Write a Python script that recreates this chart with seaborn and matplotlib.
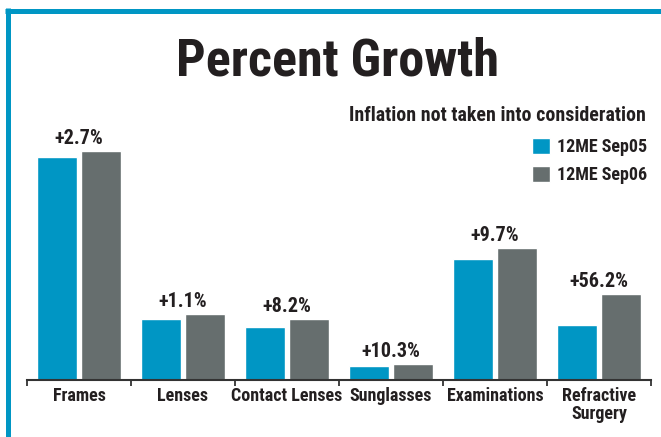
import matplotlib.pyplot as plt
import pandas as pd
import seaborn as sns
from matplotlib.lines import Line2D
from matplotlib.ticker import FixedLocator

categories = ["Frames", "Lenses", "Contact Lenses", "Sunglasses", "Examinations", "Refractive\nSurgery"]
series = ["12ME Sep05", "12ME Sep06"]
sep05 = [222.7, 61.0, 53.0, 14.0, 121.0, 55.0]
sep06 = [229.0, 66.3, 61.0, 16.0, 132.3, 86.3]
growth_labels = ["+2.7%", "+1.1%", "+8.2%", "+10.3%", "+9.7%", "+56.2%"]

BLUE = "#0096c4"
GREY = "#666e6e"
INK = "#231f20"

sns.set_theme(style="white")
plt.rcParams["font.family"] = ["Liberation Sans Narrow", "Roboto Condensed", "Noto Sans Condensed",
                               "DejaVu Sans Condensed", "Noto Sans", "DejaVu Sans"]
plt.rcParams["font.stretch"] = "condensed"
plt.rcParams["font.weight"] = "bold"

df = pd.DataFrame({
    "category": categories * 2,
    "series": [series[0]] * len(categories) + [series[1]] * len(categories),
    "value": sep05 + sep06,
})

fig = plt.figure(figsize=(6.61, 4.37), dpi=100)
ax = fig.add_axes([27 / 661, 57 / 437, 624 / 661, 280 / 437])

sns.barplot(data=df, x="category", y="value", hue="series", order=categories,
            hue_order=series, palette=[BLUE, GREY], width=0.85, gap=0.095,
            saturation=1, ax=ax)

ax.set_ylim(0, 280)
ax.set_xlim(-0.5, 5.5)
ax.set_xlabel("")
ax.set_ylabel("")
ax.set_yticks([])
for s in ["top", "left", "right"]:
    ax.spines[s].set_visible(False)
ax.spines["bottom"].set_color("#333333")
ax.spines["bottom"].set_linewidth(1.5)

ax.xaxis.set_minor_locator(FixedLocator([i - 0.5 for i in range(len(categories) + 1)]))
ax.tick_params(axis="x", which="major", length=0, pad=5, labelsize=13, labelcolor=INK)
ax.tick_params(axis="x", which="minor", bottom=True, direction="out", length=4,
               width=1.3, color="#333333")
for lbl in ax.get_xticklabels():
    lbl.set_fontweight("bold")
    lbl.set_linespacing(1.0)

for i, txt in enumerate(growth_labels):
    top = max(sep05[i], sep06[i])
    ax.annotate(txt, (i, top), xytext=(0, 5), textcoords="offset points",
                ha="center", va="baseline", fontsize=14.5, fontweight="bold", color=INK)

sns.move_legend(ax, loc="upper right", bbox_to_anchor=(656 / 661, 1 - 129 / 437),
                bbox_transform=fig.transFigure, frameon=False, title=None,
                fontsize=13, handlelength=0.95, handleheight=0.95,
                handletextpad=0.4, labelspacing=0.55, borderpad=0)
for t in ax.get_legend().get_texts():
    t.set_fontweight("bold")
    t.set_color(INK)

fig.text(338 / 661, 1 - 75 / 437, "Percent Growth", ha="center", va="baseline",
         fontsize=37.5, fontweight="bold", color=INK)
fig.text(646 / 661, 1 - 121 / 437, "Inflation not taken into consideration",
         ha="right", va="baseline", fontsize=14.3, fontweight="bold", color=INK)

# blue frame on top and left
fig.add_artist(Line2D([5 / 661, 1], [1 - 10.5 / 437] * 2, color=BLUE, lw=3.6,
                      solid_capstyle="butt", transform=fig.transFigure))
fig.add_artist(Line2D([8 / 661] * 2, [0, 1 - 8 / 437], color=BLUE, lw=3.6,
                      solid_capstyle="butt", transform=fig.transFigure))

fig.savefig("out.png", dpi=100)
